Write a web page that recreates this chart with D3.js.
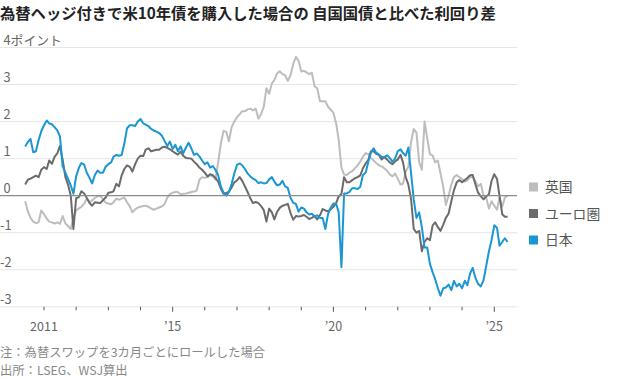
<!DOCTYPE html>
<html><head><meta charset="utf-8">
<script src="https://cdn.jsdelivr.net/npm/d3@7"></script>
<style>
html,body{margin:0;padding:0;background:#fff;}
svg{display:block;font-family:"Noto Sans CJK JP","Noto Sans",sans-serif;}
</style></head>
<body>
<svg id="c" width="620" height="380"></svg>
<script>
// ---- data (monthly, June 2010 – June 2025) ----
const firstMonth = "2010-06";
const lastMonth = "2025-06";
const seriesNames = ["英国", "ユーロ圏", "日本"];
const seriesColors = ["#bdbdbd", "#6b6b6b", "#1a96d4"];

const uk = [
-0.15,-0.42,-0.6,-0.7,-0.74,-0.72,-0.4,
-0.5,-0.62,-0.7,-0.72,-0.75,-0.72,-0.76,-0.55,-0.75,-0.82,-0.9,-0.6,
-0.4,-0.34,-0.3,-0.22,-0.08,-0.18,-0.13,-0.06,-0.02,0.0,-0.1,-0.19,
-0.21,-0.23,-0.18,-0.08,-0.11,-0.08,-0.05,-0.18,-0.28,-0.45,-0.37,-0.32,
-0.3,-0.28,-0.27,-0.3,-0.34,-0.38,-0.35,-0.32,-0.29,-0.23,-0.05,0.04,
0.08,0.1,0.1,0.04,0.05,0.06,0.08,0.1,0.11,0.14,0.43,0.5,
0.48,0.5,0.55,0.52,0.43,0.9,1.4,1.75,1.72,1.47,1.85,2.0,
2.12,2.2,2.28,2.28,2.33,2.35,2.3,2.35,2.08,2.2,2.4,2.9,
2.75,3.03,3.12,3.3,3.36,3.28,3.25,3.1,3.25,3.55,3.75,3.64,
3.35,3.37,3.33,3.28,3.32,2.95,2.9,2.55,2.55,2.55,2.4,2.32,
2.24,1.95,1.5,0.75,0.57,0.56,0.62,0.66,0.74,0.82,0.92,1.05,
1.15,1.12,1.02,0.95,0.88,0.82,0.79,0.74,0.67,0.58,0.52,0.6,
0.46,0.3,0.32,0.65,0.78,1.45,1.8,1.7,0.9,0.7,2.0,1.55,
1.12,1.08,0.9,0.95,0.6,0.24,-0.25,0.0,0.3,0.5,0.56,0.5,
0.45,0.38,0.41,0.5,0.5,0.38,0.25,0.32,0.0,-0.05,-0.35,-0.15,
-0.27,-0.38,-0.05,-0.3,-0.05,0.0
];

const euro = [
0.3,0.43,0.46,0.5,0.54,0.5,0.7,
0.77,0.72,0.95,0.86,1.05,1.14,1.34,0.97,0.5,0.3,0.0,-0.9,
-0.07,-0.04,0.12,0.06,-0.06,-0.2,-0.27,-0.18,-0.19,-0.2,-0.12,-0.05,
0.08,0.09,0.12,0.32,0.25,0.55,0.72,0.82,0.78,0.65,0.85,1.0,
1.08,1.07,1.24,1.28,1.2,1.22,1.24,1.24,1.3,1.32,1.29,1.25,
1.2,1.15,1.11,1.19,1.08,1.02,1.01,1.0,0.92,0.85,0.76,0.7,
0.62,0.52,0.58,0.55,0.48,0.38,0.19,0.05,0.07,0.11,0.22,0.36,
0.41,0.5,0.4,0.25,0.1,-0.07,-0.2,-0.17,-0.2,-0.28,-0.39,-0.7,
-0.35,-0.45,-0.64,-0.44,-0.33,-0.27,-0.25,-0.22,-0.47,-0.65,-0.55,-0.56,
-0.55,-0.52,-0.57,-0.63,-0.6,-0.55,-0.64,-0.53,-0.36,-0.4,-0.42,-0.37,
-0.3,-0.2,-0.02,0.05,0.5,0.36,0.36,0.42,0.47,0.5,0.55,0.74,
0.87,0.97,1.2,1.2,1.13,1.1,0.98,1.04,0.98,0.9,0.85,0.92,
0.98,1.1,0.9,0.5,0.3,-0.1,-0.9,-1.0,-0.95,-1.5,-1.25,-1.15,
-1.2,-0.8,-0.72,-0.85,-0.95,-0.78,-0.6,-0.48,-0.15,0.15,0.36,0.42,
0.36,0.42,0.48,0.55,0.56,0.3,0.08,-0.02,-0.1,-0.02,0.04,0.4,
0.58,0.45,0.0,-0.5,-0.57,-0.57
];

const japan = [
1.33,1.45,1.53,1.17,1.2,1.5,1.74,
1.9,2.03,1.95,1.93,1.85,1.76,1.6,0.79,0.62,0.45,0.28,0.05,
0.52,0.75,0.88,0.84,0.62,0.48,0.33,0.56,0.68,0.62,0.62,0.78,
0.85,0.9,1.05,1.1,1.08,1.1,1.4,1.82,1.9,1.9,1.88,2.0,
2.07,1.95,1.92,1.88,1.8,1.76,1.73,1.69,1.62,1.48,1.34,1.46,
1.26,1.37,1.2,1.33,1.14,1.3,1.43,1.28,1.1,1.14,1.06,0.95,
0.85,0.9,0.76,0.8,0.7,0.55,0.25,0.08,0.0,0.1,0.32,0.6,
0.83,0.87,0.82,0.72,0.6,0.52,0.46,0.42,0.34,0.36,0.33,0.34,
0.44,0.5,0.38,0.28,0.3,0.4,0.25,0.21,-0.06,-0.19,-0.22,-0.43,
-0.32,-0.35,-0.45,-0.51,-0.49,-0.56,-0.53,-0.6,-0.6,-0.9,-0.5,-0.32,
-0.21,-0.22,-0.45,-1.93,0.06,0.06,0.1,0.2,0.2,0.18,0.24,0.56,
0.62,0.92,1.15,1.28,1.16,1.11,1.05,1.04,1.09,1.02,0.92,1.0,
1.2,1.25,1.15,1.08,1.3,0.6,-0.1,-0.6,-0.45,-0.85,-1.4,-1.4,
-1.84,-2.07,-2.25,-2.5,-2.7,-2.5,-2.48,-2.4,-2.55,-2.3,-2.45,-2.38,
-2.5,-2.3,-2.42,-2.1,-1.95,-2.22,-2.38,-2.45,-2.28,-1.9,-1.5,-1.2,
-0.8,-0.87,-1.35,-1.25,-1.15,-1.25
];

const yTicks = [-3, -2, -1, 0, 1, 2, 3, 4];
const yTopLabel = "4ポイント";
const xTickYears = [2011,2012,2013,2014,2015,2016,2017,2018,2019,2020,2021,2022,2023,2024,2025];
const xLabelYears = [2011, 2015, 2020, 2025];
const xLabelText = ["2011", "’15", "’20", "’25"];
const title = "為替ヘッジ付きで米10年債を購入した場合の 自国国債と比べた利回り差";
const notes = ["注：為替スワップを3カ月ごとにロールした場合", "出所：LSEG、WSJ算出"];

// ---- chart ----
const svg = d3.select("#c");
const parseM = d3.timeParse("%Y-%m");
const months = d3.timeMonth.range(parseM(firstMonth), d3.timeMonth.offset(parseM(lastMonth), 1));
const series = [uk, euro, japan];

const x = d3.scaleTime()
  .domain([new Date(2011, 0, 1), new Date(2025, 0, 1)])
  .range([44, 494.3]);
const y = d3.scaleLinear().domain([-3, 4]).range([306.8, 47.5]);
const gridX0 = 0, gridX1 = 517;

svg.append("text").attr("x", 0).attr("y", 19)
  .attr("font-size", 15.3).attr("font-weight", 700).attr("fill", "#222")
  .text(title);

// gridlines
svg.append("g").selectAll("line").data(yTicks.filter(d => d !== 0)).join("line")
  .attr("x1", gridX0).attr("x2", gridX1)
  .attr("y1", d => y(d)).attr("y2", d => y(d))
  .attr("stroke", "#e6e6e6").attr("stroke-width", 1);

// y labels
svg.append("g").selectAll("text").data(yTicks).join("text")
  .attr("x", d => d < 0 ? 0 : 3.5)
  .attr("y", d => y(d) - 3)
  .attr("font-size", 12.8).attr("fill", "#666")
  .text(d => d === 4 ? yTopLabel : (d < 0 ? "-" + Math.abs(d) : String(d)));

// x ticks
const xAxisY = y(-3);
svg.append("g").selectAll("line").data(xTickYears).join("line")
  .attr("x1", d => x(new Date(d, 0, 1))).attr("x2", d => x(new Date(d, 0, 1)))
  .attr("y1", xAxisY).attr("y2", d => xLabelYears.includes(d) && d !== 2011 ? xAxisY + 5 : xAxisY + 3.5)
  .attr("stroke", "#555").attr("stroke-width", 1);

svg.append("g").selectAll("text").data(xLabelYears).join("text")
  .attr("x", d => x(new Date(d, 0, 1)))
  .attr("y", 331)
  .attr("text-anchor", "middle").attr("font-size", 12.5).attr("fill", "#666")
  .text((d, i) => xLabelText[i]);

// lines
const line = d3.line()
  .x((d, i) => x(months[i]))
  .y(d => y(d))
  .curve(d3.curveLinear);

const paths = svg.append("g");
paths.selectAll("path").data(series).join("path")
  .attr("d", line)
  .attr("fill", "none")
  .attr("stroke", (d, i) => seriesColors[i])
  .attr("stroke-width", 2)
  .attr("stroke-linejoin", "round");

// zero line
svg.append("line")
  .attr("x1", gridX0).attr("x2", gridX1)
  .attr("y1", y(0)).attr("y2", y(0))
  .attr("stroke", "#8a8a8a").attr("stroke-width", 1.4);

// legend
const leg = svg.append("g").selectAll("g").data(seriesNames).join("g")
  .attr("transform", (d, i) => `translate(529,${187 + i * 26.5})`);
leg.append("rect").attr("x", 0).attr("y", -4.5).attr("width", 9).attr("height", 9)
  .attr("fill", (d, i) => seriesColors[i]);
leg.append("text").attr("x", 16).attr("y", 5)
  .attr("font-size", 13.8).attr("fill", "#555").text(d => d);

// notes
svg.append("g").selectAll("text").data(notes).join("text")
  .attr("x", 0).attr("y", (d, i) => 357 + i * 18)
  .attr("font-size", 12.3).attr("fill", "#888").text(d => d);
</script>
</body></html>
